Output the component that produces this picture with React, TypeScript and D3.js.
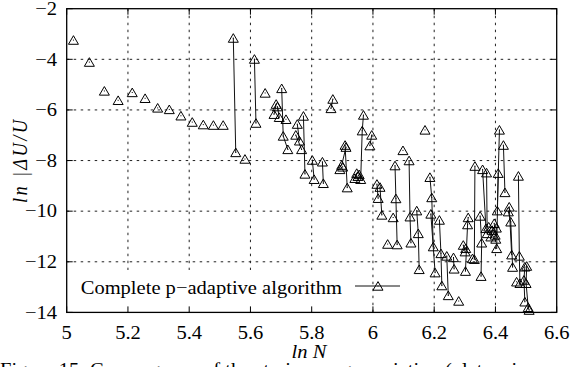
import React from "react";
import * as d3 from "d3";

const xTicks = [5, 5.2, 5.4, 5.6, 5.8, 6, 6.2, 6.4, 6.6];
const yTicks = [-14, -12, -10, -8, -6, -4, -2];

// coarse initial points (not connected)
const coarsePoints: [number, number][] = [
  [5.022, -3.24], [5.074, -4.11], [5.123, -5.25], [5.168, -5.62], [5.214, -5.31],
  [5.256, -5.54], [5.297, -5.92], [5.335, -5.98], [5.373, -6.23], [5.41, -6.48],
  [5.446, -6.58], [5.479, -6.6], [5.511, -6.6],
];

// adaptive refinement runs (each run connected by a line)
const refinementRuns: [number, number][][] = [
  [[5.544, -3.16], [5.552, -7.68]],
  [[5.582, -7.94]],
  [[5.613, -3.99], [5.618, -6.52]],
  [[5.648, -5.33]],
  [[5.684, -5.77], [5.677, -6.17]],
  [[5.688, -5.87], [5.694, -6.29]],
  [[5.702, -5.15], [5.707, -7.03], [5.722, -7.56]],
  [[5.716, -6.37]],
  [[5.753, -6.56], [5.76, -7.22]],
  [[5.748, -6.99], [5.767, -7.56]],
  [[5.773, -6.24], [5.778, -8.53]],
  [[5.802, -7.98], [5.808, -8.74]],
  [[5.835, -8.05], [5.838, -8.9]],
  [[5.869, -5.57], [5.863, -5.94]],
  [[5.909, -7.39], [5.916, -9.07]],
  [[5.912, -7.47], [5.898, -8.18]],
  [[5.892, -8.35], [5.901, -8.25]],
  [[5.969, -6.2], [5.965, -6.82], [5.96, -8.74]],
  [[5.947, -8.5], [5.941, -8.7]],
  [[5.951, -8.62], [5.955, -8.55]],
  [[5.996, -6.99], [5.99, -7.41]],
  [[6.013, -8.93], [6.017, -9.49]],
  [[6.023, -9.05], [6.029, -10.15]],
  [[6.048, -11.3]],
  [[6.066, -10.25]],
  [[6.072, -8.2], [6.075, -9.5], [6.079, -11.32]],
  [[6.098, -7.6]],
  [[6.118, -8.0], [6.121, -10.22], [6.124, -11.25]],
  [[6.143, -9.98], [6.148, -10.88], [6.151, -12.3]],
  [[6.17, -6.79]],
  [[6.186, -8.66], [6.192, -9.46], [6.197, -11.4]],
  [[6.189, -10.11], [6.203, -12.43]],
  [[6.217, -10.35], [6.222, -11.67], [6.225, -12.94]],
  [[6.241, -11.77], [6.246, -13.33]],
  [[6.263, -11.83], [6.265, -12.28]],
  [[6.28, -13.55]],
  [[6.311, -10.25], [6.309, -10.53], [6.302, -12.37]],
  [[6.295, -11.34], [6.301, -11.6]],
  [[6.303, -11.47]],
  [[6.325, -11.87]],
  [[6.333, -8.22], [6.331, -11.9]],
  [[6.35, -10.19], [6.355, -11.25], [6.353, -12.57]],
  [[6.358, -8.35], [6.369, -10.68]],
  [[6.371, -8.48], [6.373, -10.88]],
  [[6.378, -10.62]],
  [[6.396, -10.48], [6.399, -10.94]],
  [[6.389, -10.75], [6.385, -11.01]],
  [[6.403, -10.66], [6.401, -11.1]],
  [[6.413, -6.79], [6.406, -9.98]],
  [[6.409, -8.5], [6.404, -11.47]],
  [[6.426, -7.39], [6.431, -9.26]],
  [[6.445, -9.83], [6.453, -11.72]],
  [[6.442, -10.02], [6.45, -10.42], [6.456, -12.21]],
  [[6.475, -8.61], [6.478, -11.77], [6.48, -12.85]],
  [[6.469, -12.79]],
  [[6.496, -12.2], [6.493, -12.72], [6.496, -13.58]],
  [[6.502, -12.17], [6.5, -12.85], [6.507, -13.8], [6.51, -13.91]],
];

const legendLabel = "Complete p\u2212adaptive algorithm";
const xTitle = "ln N";
const yTitle = "ln |\u0394U/U";
const caption = "Figure 15: Convergence of the strain energy variation (plate wi";

const W = 583;
const H = 367;
const FS = 18.5;
const SX = 1.11;
const FONT = "'Liberation Serif', 'Times New Roman', serif";

const x = d3.scaleLinear().domain([5, 6.6]).range([66.7, 556.7]);
const y = d3.scaleLinear().domain([-14, -2]).range([312.4, 8.7]);

function SText(props: { x: number; y: number; anchor?: string; italic?: boolean; children: React.ReactNode }) {
  return (
    <g transform={`translate(${props.x},${props.y}) scale(${SX},1)`}>
      <text
        x={0}
        y={0}
        textAnchor={props.anchor || "start"}
        fontFamily={FONT}
        fontSize={FS}
        fontStyle={props.italic ? "italic" : "normal"}
        fill="#000"
      >
        {props.children}
      </text>
    </g>
  );
}

function Tri({ cx, cy }: { cx: number; cy: number }) {
  const d = `M${cx},${cy - 4.4}L${cx + 5},${cy + 4.2}L${cx - 5},${cy + 4.2}Z`;
  return (
    <g>
      <path d={d} fill="none" stroke="#000" strokeWidth={1} />
      <rect x={cx - 0.5} y={cy - 0.5} width={1} height={1} fill="#000" />
    </g>
  );
}

export default function App() {
  const [x0, x1] = x.range();
  const [yb, yt] = y.range();
  const line = d3
    .line<[number, number]>()
    .x((d) => x(d[0]))
    .y((d) => y(d[1]));
  const allRuns: [number, number][][] = [...coarsePoints.map((p) => [p]), ...refinementRuns];
  const tick = 6;

  return (
    <svg width={W} height={H} style={{ position: "absolute", left: 0, top: 0, background: "#fff" }}>
      <rect x={0} y={0} width={W} height={H} fill="#fff" />
      {/* grid */}
      {yTicks.slice(1, -1).map((v) => (
        <line key={"gy" + v} x1={x0} x2={x1} y1={y(v)} y2={y(v)} stroke="#222" strokeWidth={1} strokeDasharray="2.5,4.5" />
      ))}
      {xTicks.slice(1, -1).map((v) => (
        <line key={"gx" + v} x1={x(v)} x2={x(v)} y1={yt} y2={yb} stroke="#222" strokeWidth={1} strokeDasharray="2.5,4.5" />
      ))}
      {/* legend background */}
      <rect x={x0 + 0.5} y={270} width={285} height={yb - 270 - 0.5} fill="#fff" />
      {/* ticks */}
      {yTicks.map((v) => (
        <g key={"ty" + v}>
          <line x1={x0} x2={x0 + tick} y1={y(v)} y2={y(v)} stroke="#000" strokeWidth={1} />
          <line x1={x1} x2={x1 - tick} y1={y(v)} y2={y(v)} stroke="#000" strokeWidth={1} />
        </g>
      ))}
      {xTicks.map((v) => (
        <g key={"tx" + v}>
          <line x1={x(v)} x2={x(v)} y1={yb} y2={yb - tick} stroke="#000" strokeWidth={1} />
          <line x1={x(v)} x2={x(v)} y1={yt} y2={yt + tick} stroke="#000" strokeWidth={1} />
        </g>
      ))}
      {/* frame */}
      <rect x={x0} y={yt} width={x1 - x0} height={yb - yt} fill="none" stroke="#000" strokeWidth={1.3} />
      {/* data lines */}
      {allRuns.map((run, i) =>
        run.length > 1 ? <path key={"l" + i} d={line(run) || ""} fill="none" stroke="#111" strokeWidth={1} /> : null
      )}
      {/* markers */}
      {allRuns.map((run, i) => run.map((p, j) => <Tri key={"m" + i + "_" + j} cx={x(p[0])} cy={y(p[1])} />))}
      {/* legend */}
      <SText x={80.7} y={294}>{legendLabel}</SText>
      <line x1={355} x2={400} y1={286} y2={286} stroke="#111" strokeWidth={1} />
      <Tri cx={378} cy={286} />
      {/* tick labels */}
      {yTicks.map((v) => (
        <SText key={"ly" + v} x={57} y={y(v) + 6.2} anchor="end">
          {d3.format("")(v).replace("-", "\u2212")}
        </SText>
      ))}
      {xTicks.map((v) => (
        <SText key={"lx" + v} x={x(v)} y={338.5} anchor="middle">
          {String(v)}
        </SText>
      ))}
      {/* axis titles */}
      <SText x={309} y={358} anchor="middle" italic>
        {xTitle}
      </SText>
      <g transform={`translate(27,161.5) scale(${SX},1) rotate(-90)`}>
        <text
          x={0}
          y={0}
          textAnchor="middle"
          fontFamily={FONT}
          fontSize={FS}
          fontStyle="italic"
          textLength={83}
          lengthAdjust="spacing"
        >
          {yTitle}
        </text>
      </g>
      {/* caption */}
      <SText x={0} y={375.5}>{caption}</SText>
    </svg>
  );
}
